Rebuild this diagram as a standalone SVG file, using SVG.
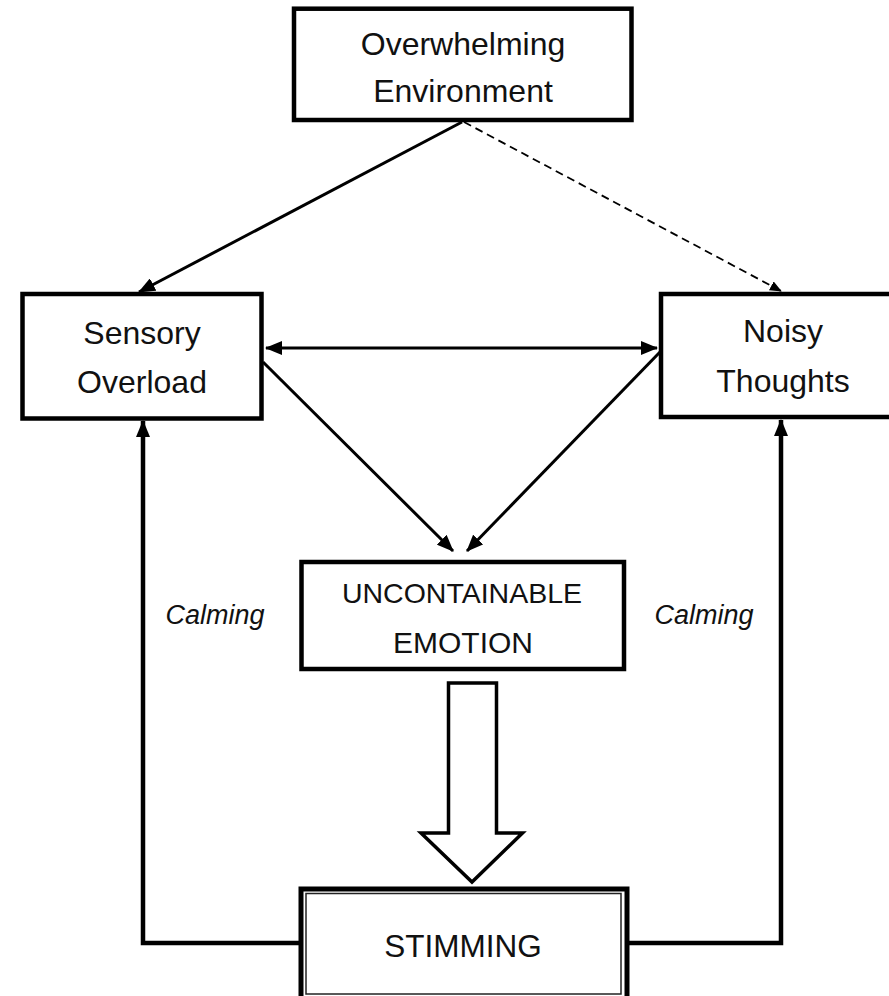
<svg xmlns="http://www.w3.org/2000/svg" width="889" height="996" viewBox="0 0 889 996">
<defs>
<style>
.box{fill:#fff;stroke:#000;stroke-width:4.5}
.t{font-family:"Liberation Sans",Arial,sans-serif;fill:#111;text-anchor:middle}
.ln{fill:none;stroke:#000;stroke-width:3}
.fb{fill:none;stroke:#000;stroke-width:4.5}
.it{font-family:"Liberation Sans",Arial,sans-serif;font-style:italic;fill:#111;text-anchor:middle;font-size:27px}
</style>
<marker id="ah" markerUnits="userSpaceOnUse" markerWidth="17" markerHeight="14" refX="16" refY="7" orient="auto-start-reverse">
<path d="M0,0 L17,7 L0,14 z" fill="#000"/>
</marker>
<marker id="ahs" markerUnits="userSpaceOnUse" markerWidth="12" markerHeight="10" refX="11" refY="5" orient="auto">
<path d="M0,0 L12,5 L0,10 z" fill="#000"/>
</marker>
</defs>
<rect width="889" height="996" fill="#fff"/>
<g id="connectors">
<line class="ln" x1="462" y1="122" x2="139" y2="292" marker-end="url(#ah)"/>
<line x1="464" y1="122" x2="781" y2="291" stroke="#000" stroke-width="1.8" stroke-dasharray="8,5" marker-end="url(#ahs)"/>
<line class="ln" x1="266" y1="348" x2="657" y2="348" marker-start="url(#ah)" marker-end="url(#ah)"/>
<line class="ln" x1="263" y1="362" x2="453" y2="551" marker-end="url(#ah)"/>
<line class="ln" x1="660" y1="352" x2="467" y2="551" marker-end="url(#ah)"/>
<polyline class="fb" points="299,943 143,943 143,421" marker-end="url(#ah)"/>
<polyline class="fb" points="628,943 781,943 781,420" marker-end="url(#ah)"/>
<path d="M448.5,683 L496.5,683 L496.5,833 L522.5,833 L472,882 L421,833 L448.5,833 Z" fill="#fff" stroke="#000" stroke-width="3.5" stroke-linejoin="miter"/>
</g>
<g id="overwhelming">
<rect class="box" x="294" y="8.7" width="337.5" height="111.3"/>
<text class="t" x="463" y="55" font-size="32">Overwhelming</text>
<text class="t" x="463" y="102" font-size="32">Environment</text>
</g>
<g id="sensory">
<rect class="box" x="22.5" y="294" width="239" height="124.5"/>
<text class="t" x="142" y="344" font-size="32">Sensory</text>
<text class="t" x="142" y="393" font-size="32">Overload</text>
</g>
<g id="noisy">
<rect class="box" x="661" y="294" width="250" height="123"/>
<text class="t" x="783" y="342" font-size="32">Noisy</text>
<text class="t" x="783" y="392" font-size="32">Thoughts</text>
</g>
<g id="emotion">
<rect class="box" x="301.5" y="562" width="322.5" height="107"/>
<text class="t" x="462" y="603" font-size="28.5">UNCONTAINABLE</text>
<text class="t" x="463" y="653" font-size="30">EMOTION</text>
</g>
<g id="stimming">
<rect x="301" y="889" width="326" height="110" fill="#fff" stroke="#000" stroke-width="5"/>
<rect x="306" y="893.5" width="315" height="100.5" fill="none" stroke="#222" stroke-width="1.5"/>
<text class="t" x="463" y="957" font-size="31.5">STIMMING</text>
</g>
<g id="labels">
<text class="it" x="215" y="624">Calming</text>
<text class="it" x="704" y="624">Calming</text>
</g>
</svg>
